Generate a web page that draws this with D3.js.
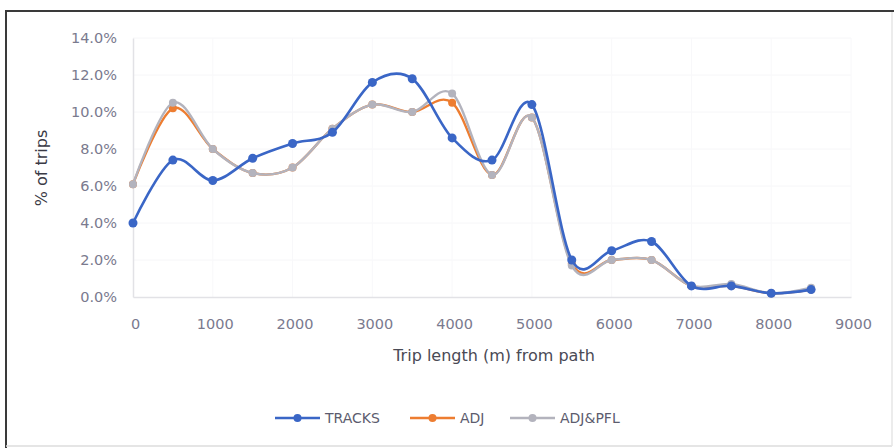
<!DOCTYPE html>
<html>
<head>
<meta charset="utf-8">
<script src="https://cdn.jsdelivr.net/npm/d3@7"></script>
<style>
  html, body { margin: 0; padding: 0; background: #fff; }
  svg { display: block; }
</style>
</head>
<body>
<svg id="chart" width="894" height="448"></svg>
<script>
// Trip length bins (m) and share of trips (%) per dataset
const tripLength = [0, 500, 1000, 1500, 2000, 2500, 3000, 3500, 4000, 4500, 5000, 5500, 6000, 6500, 7000, 7500, 8000, 8500];
const tracks   = [4.0, 7.4, 6.3, 7.5, 8.3, 8.9, 11.6, 11.8, 8.6, 7.4, 10.4, 2.0, 2.5, 3.0, 0.6, 0.6, 0.2, 0.4];
const adj      = [6.1, 10.2, 8.0, 6.7, 7.0, 9.1, 10.4, 10.0, 10.5, 6.6, 9.7, 1.8, 2.0, 2.0, 0.6, 0.6, 0.2, 0.4];
const adjPfl   = [6.1, 10.5, 8.0, 6.7, 7.0, 9.1, 10.4, 10.0, 11.0, 6.6, 9.7, 1.7, 2.0, 2.0, 0.6, 0.7, 0.2, 0.5];
const seriesNames = ["TRACKS", "ADJ", "ADJ&PFL"];
const xTicks = [0, 1000, 2000, 3000, 4000, 5000, 6000, 7000, 8000, 9000];
const yTicks = [0, 2, 4, 6, 8, 10, 12, 14];

const colors = { "TRACKS": "#3a66c6", "ADJ": "#ed7d31", "ADJ&PFL": "#b3b3bd" };
const seriesValues = { "TRACKS": tracks, "ADJ": adj, "ADJ&PFL": adjPfl };

const svg = d3.select("#chart");
const font = "'DejaVu Sans', sans-serif";

// Frame around the chart
svg.append("line").attr("x1", 6).attr("x2", 894).attr("y1", 11).attr("y2", 11)
  .attr("stroke", "#3a3a3a").attr("stroke-width", 2);
svg.append("line").attr("x1", 6).attr("x2", 6).attr("y1", 10).attr("y2", 448)
  .attr("stroke", "#3a3a3a").attr("stroke-width", 2);
svg.append("line").attr("x1", 6).attr("x2", 892).attr("y1", 446).attr("y2", 446)
  .attr("stroke", "#dcdcdc").attr("stroke-width", 1.5);
svg.append("line").attr("x1", 892).attr("x2", 892).attr("y1", 12).attr("y2", 446)
  .attr("stroke", "#e6e6e6").attr("stroke-width", 1.5);

const x = d3.scaleLinear().domain([0, 9000]).range([133, 851]);
const y = d3.scaleLinear().domain([0, 14]).range([297, 38]);

// Very faint gridlines
svg.append("g").selectAll("line").data(yTicks.slice(1)).join("line")
  .attr("x1", x(0)).attr("x2", x(9000))
  .attr("y1", d => y(d)).attr("y2", d => y(d))
  .attr("stroke", "#f6f6f8").attr("stroke-width", 1);
svg.append("g").selectAll("line").data(xTicks.slice(1)).join("line")
  .attr("x1", d => x(d)).attr("x2", d => x(d))
  .attr("y1", y(14)).attr("y2", y(0))
  .attr("stroke", "#f8f8fa").attr("stroke-width", 1);

// Y axis
const yAxis = d3.axisLeft(y).tickValues(yTicks).tickSize(0).tickPadding(16)
  .tickFormat(d => d.toFixed(1) + "%");
const gy = svg.append("g").attr("transform", `translate(${x(0)},0)`).call(yAxis);
gy.select(".domain").attr("stroke", "#e2e2e6").attr("stroke-width", 1.5);
gy.selectAll("text").attr("font-family", font).attr("font-size", 14.5).attr("fill", "#7a7a8e");

// X axis
const xAxis = d3.axisBottom(x).tickValues(xTicks).tickSize(0).tickPadding(22)
  .tickFormat(d3.format("d"));
const gx = svg.append("g").attr("transform", `translate(0,${y(0)})`).call(xAxis);
gx.select(".domain").attr("stroke", "#e2e2e6").attr("stroke-width", 1.5);
gx.selectAll("text").attr("font-family", font).attr("font-size", 14.5).attr("fill", "#7a7a8e")
  .attr("dx", 2);

// Axis titles
svg.append("text").attr("x", 494).attr("y", 361).attr("text-anchor", "middle")
  .attr("font-family", font).attr("font-size", 16).attr("fill", "#4a4a55")
  .text("Trip length (m) from path");
svg.append("text").attr("transform", "translate(47,168) rotate(-90)").attr("text-anchor", "middle")
  .attr("font-family", font).attr("font-size", 16).attr("fill", "#3a3a45")
  .text("% of trips");

// Smoothed series lines with markers
const line = d3.line()
  .x((d, i) => x(tripLength[i]))
  .y(d => y(d))
  .curve(d3.curveCardinal.tension(0));

const drawOrder = ["ADJ", "ADJ&PFL", "TRACKS"];
drawOrder.forEach(name => {
  const vals = seriesValues[name];
  const g = svg.append("g");
  g.append("path").datum(vals).attr("d", line)
    .attr("fill", "none").attr("stroke", colors[name])
    .attr("stroke-width", name === "TRACKS" ? 2.6 : 2.4)
    .attr("stroke-linejoin", "round").attr("stroke-linecap", "round");
  g.selectAll("circle").data(vals).join("circle")
    .attr("cx", (d, i) => x(tripLength[i])).attr("cy", d => y(d))
    .attr("r", name === "TRACKS" ? 4.5 : 4)
    .attr("fill", colors[name]);
});

// Legend
const legend = [
  { name: "TRACKS", x: 275 },
  { name: "ADJ", x: 410 },
  { name: "ADJ&PFL", x: 510 }
];
const ly = 418;
legend.forEach(l => {
  svg.append("line").attr("x1", l.x).attr("x2", l.x + 45).attr("y1", ly).attr("y2", ly)
    .attr("stroke", colors[l.name]).attr("stroke-width", 2.6);
  svg.append("circle").attr("cx", l.x + 22.5).attr("cy", ly).attr("r", 4)
    .attr("fill", colors[l.name]);
  svg.append("text").attr("x", l.x + 50).attr("y", ly).attr("dy", "0.35em")
    .attr("font-family", font).attr("font-size", 14).attr("fill", "#5c5c6e")
    .text(l.name);
});
</script>
</body>
</html>
